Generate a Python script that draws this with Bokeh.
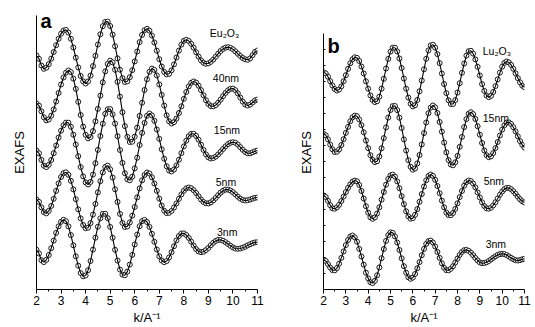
from bokeh.plotting import figure
from bokeh.layouts import row
from bokeh.models import Range1d, FixedTicker, Label
from bokeh.embed import file_html
from bokeh.resources import INLINE

# k grid (A^-1), sampled every 0.1 from 2 to 11
k = [round(2.0 + 0.1 * i, 1) for i in range(91)]

# ---------- panel a (Eu) : EXAFS, arbitrary units ----------
a_names = ["Eu\u2082O\u2083", "40nm", "15nm", "5nm", "3nm"]
a_offsets = [23.4, 18.9, 13.9, 8.9, 3.9]

a_eu2o3 = [0, -0.33, -1.0, -1.33, -1.21, -0.86, -0.32, 0.35, 1.03, 1.67,
           2.18, 2.49, 2.56, 2.29, 1.67, 0.80, -0.22, -1.19, -2.05, -2.59,
           -2.8, -2.59, -2.01, -1.06, -0.03, 1.10, 2.12, 2.93, 3.36, 3.39,
           2.95, 2.09, 0.93, -0.29, -1.42, -2.26, -2.65, -2.58, -2.17, -1.47,
           -0.59, 0.40, 1.34, 2.06, 2.53, 2.67, 2.48, 2.0, 1.30, 0.48,
           -0.37, -1.10, -1.64, -1.89, -1.83, -1.48, -0.89, -0.20, 0.49, 1.08,
           1.47, 1.57, 1.45, 1.17, 0.78, 0.32, -0.11, -0.49, -0.73, -0.83,
           -0.78, -0.63, -0.40, -0.12, 0.18, 0.45, 0.66, 0.80, 0.83, 0.76,
           0.62, 0.41, 0.17, -0.05, -0.25, -0.38, -0.43, -0.29, 0.04, 0.36,
           0.5]
a_40nm = [-0.3, -0.52, -1.08, -1.68, -1.99, -1.90, -1.52, -0.90, -0.10, 0.75,
          1.60, 2.30, 2.78, 3.0, 2.84, 2.19, 1.16, -0.13, -1.45, -2.61,
          -3.43, -3.79, -3.65, -3.06, -2.08, -0.84, 0.49, 1.82, 2.91, 3.66,
          3.99, 3.81, 3.07, 1.87, 0.39, -1.17, -2.56, -3.63, -4.15, -4.12,
          -3.62, -2.72, -1.54, -0.23, 1.05, 2.12, 2.87, 3.19, 3.06, 2.51,
          1.61, 0.56, -0.51, -1.48, -2.08, -2.3, -2.17, -1.81, -1.25, -0.58,
          0.17, 0.85, 1.41, 1.77, 1.9, 1.79, 1.48, 1.04, 0.53, 0.03,
          -0.36, -0.57, -0.58, -0.46, -0.22, 0.09, 0.44, 0.76, 1.02, 1.17,
          1.19, 1.03, 0.71, 0.29, -0.11, -0.40, -0.5, -0.41, -0.2, 0.01,
          0.1]
a_15nm = [0, -0.28, -0.94, -1.52, -1.66, -1.43, -0.95, -0.27, 0.50, 1.30,
          1.98, 2.52, 2.79, 2.78, 2.37, 1.58, 0.59, -0.57, -1.66, -2.59,
          -3.19, -3.4, -3.14, -2.41, -1.27, 0.06, 1.44, 2.68, 3.67, 4.12,
          4.14, 3.62, 2.69, 1.43, 0.05, -1.24, -2.28, -2.88, -2.98, -2.61,
          -1.79, -0.72, 0.55, 1.76, 2.76, 3.47, 3.7, 3.51, 2.97, 2.10,
          1.17, 0.12, -0.82, -1.58, -2.01, -2.09, -1.90, -1.49, -0.92, -0.26,
          0.41, 0.98, 1.43, 1.67, 1.67, 1.46, 1.08, 0.58, 0.06, -0.39,
          -0.69, -0.8, -0.75, -0.61, -0.39, -0.13, 0.16, 0.42, 0.64, 0.78,
          0.83, 0.77, 0.59, 0.33, 0.07, -0.15, -0.28, -0.28, -0.18, -0.07,
          0]
a_5nm = [0.1, -0.14, -0.68, -1.17, -1.29, -1.04, -0.54, 0.17, 0.96, 1.71,
         2.35, 2.73, 2.82, 2.57, 1.97, 1.11, 0.13, -0.89, -1.79, -2.45,
         -2.77, -2.72, -2.26, -1.41, -0.34, 0.82, 1.93, 2.81, 3.36, 3.49,
         3.12, 2.30, 1.12, -0.14, -1.34, -2.24, -2.65, -2.59, -2.19, -1.52,
         -0.65, 0.31, 1.21, 2.02, 2.55, 2.80, 2.70, 2.32, 1.70, 0.97,
         0.18, -0.50, -1.03, -1.26, -1.23, -1.04, -0.70, -0.29, 0.17, 0.61,
         0.97, 1.22, 1.3, 1.23, 1.03, 0.75, 0.42, 0.10, -0.15, -0.28,
         -0.29, -0.18, 0.01, 0.26, 0.54, 0.79, 0.98, 1.09, 1.09, 1.0,
         0.83, 0.61, 0.38, 0.18, 0.05, 0, 0.03, 0.1, 0.19, 0.27,
         0.3]
a_3nm = [0.07, -0.30, -0.97, -1.16, -0.93, -0.45, 0.23, 0.99, 1.76, 2.41,
         2.87, 3.07, 2.93, 2.41, 1.54, 0.52, -0.58, -1.52, -2.26, -2.58,
         -2.49, -1.97, -1.05, 0.09, 1.28, 2.38, 3.22, 3.67, 3.67, 3.23,
         2.36, 1.27, 0.07, -1.0, -1.91, -2.42, -2.47, -2.11, -1.41, -0.44,
         0.61, 1.59, 2.43, 2.94, 3.06, 2.85, 2.36, 1.67, 0.87, 0.10,
         -0.58, -1.0, -1.17, -1.05, -0.69, -0.17, 0.43, 1.01, 1.45, 1.70,
         1.71, 1.55, 1.26, 0.88, 0.49, 0.14, -0.09, -0.17, -0.12, 0.04,
         0.26, 0.53, 0.77, 0.96, 1.06, 1.06, 0.97, 0.83, 0.65, 0.47,
         0.31, 0.20, 0.17, 0.2, 0.28, 0.38, 0.51, 0.63, 0.74, 0.81,
         0.83]
a_series = [a_eu2o3, a_40nm, a_15nm, a_5nm, a_3nm]
a_label_k = [9.06, 9.18, 9.22, 9.3, 9.35]
a_label_y = [25.7, 21.2, 16.0, 10.8, 5.8]

# ---------- panel b (Lu) ----------
b_names = ["Lu\u2082O\u2083", "15nm", "5nm", "3nm"]
b_offsets = [21.4, 15.2, 9.2, 3.1]

b_lu2o3 = [0.33, 0.21, -0.12, -0.57, -1.0, -1.35, -1.5, -1.40, -1.08, -0.57,
           0.03, 0.66, 1.23, 1.63, 1.82, 1.76, 1.45, 0.90, 0.21, -0.58,
           -1.32, -1.99, -2.45, -2.66, -2.57, -2.12, -1.32, -0.33, 0.70, 1.66,
           2.39, 2.78, 2.78, 2.41, 1.70, 0.75, -0.30, -1.32, -2.21, -2.83,
           -3.09, -2.97, -2.45, -1.58, -0.50, 0.62, 1.67, 2.51, 3.0, 3.08,
           2.78, 2.14, 1.24, 0.20, -0.86, -1.76, -2.48, -2.85, -2.85, -2.46,
           -1.71, -0.77, 0.27, 1.20, 1.99, 2.43, 2.47, 2.19, 1.61, 0.87,
           0.0, -0.86, -1.54, -2.01, -2.17, -2.03, -1.65, -1.06, -0.39, 0.29,
           0.88, 1.26, 1.4, 1.31, 1.06, 0.67, 0.22, -0.26, -0.68, -1.02,
           -1.17]
b_15nm = [0.37, 0.22, -0.18, -0.71, -1.18, -1.45, -1.43, -1.19, -0.75, -0.17,
          0.46, 1.06, 1.63, 2.02, 2.19, 2.13, 1.80, 1.24, 0.52, -0.30,
          -1.07, -1.77, -2.24, -2.46, -2.37, -1.90, -1.08, -0.06, 1.01, 1.99,
          2.75, 3.14, 3.15, 2.74, 1.98, 0.95, -0.19, -1.30, -2.27, -2.93,
          -3.22, -3.10, -2.59, -1.75, -0.69, 0.44, 1.50, 2.43, 2.99, 3.2,
          3.01, 2.45, 1.55, 0.58, -0.50, -1.48, -2.26, -2.70, -2.78, -2.48,
          -1.84, -0.93, 0.06, 1.04, 1.84, 2.37, 2.53, 2.34, 1.85, 1.13,
          0.28, -0.55, -1.30, -1.77, -1.97, -1.88, -1.56, -1.06, -0.45, 0.19,
          0.78, 1.23, 1.49, 1.51, 1.35, 1.03, 0.61, 0.12, -0.36, -0.74,
          -1.01]
b_5nm = [0.2, 0.05, -0.33, -0.77, -1.08, -1.12, -0.99, -0.73, -0.35, 0.09,
         0.54, 0.96, 1.32, 1.58, 1.69, 1.62, 1.26, 0.65, -0.10, -0.87,
         -1.52, -1.98, -2.13, -1.99, -1.60, -0.98, -0.22, 0.55, 1.28, 1.86,
         2.21, 2.29, 2.09, 1.61, 0.93, 0.13, -0.67, -1.38, -1.89, -2.12,
         -2.06, -1.73, -1.16, -0.43, 0.35, 1.10, 1.72, 2.16, 2.3, 2.16,
         1.77, 1.15, 0.43, -0.31, -0.98, -1.51, -1.76, -1.77, -1.55, -1.14,
         -0.58, 0.04, 0.65, 1.18, 1.54, 1.70, 1.64, 1.40, 1.01, 0.51,
         0.0, -0.48, -0.86, -1.08, -1.12, -1.02, -0.79, -0.47, -0.10, 0.28,
         0.60, 0.84, 0.96, 0.95, 0.83, 0.62, 0.37, 0.08, -0.18, -0.38,
         -0.49]
b_3nm = [-0.13, -0.25, -0.56, -0.91, -1.16, -1.18, -0.96, -0.52, 0.06, 0.71,
         1.34, 1.85, 2.20, 2.30, 2.12, 1.68, 0.96, 0.20, -0.62, -1.42,
         -1.99, -2.37, -2.46, -2.23, -1.68, -0.89, 0.03, 0.95, 1.76, 2.35,
         2.61, 2.56, 2.21, 1.60, 0.85, 0.02, -0.77, -1.42, -1.88, -2.03,
         -1.91, -1.55, -0.98, -0.36, 0.33, 0.96, 1.46, 1.74, 1.79, 1.60,
         1.20, 0.66, 0.06, -0.48, -0.93, -1.17, -1.18, -1.03, -0.77, -0.40,
         -0.01, 0.36, 0.66, 0.83, 0.86, 0.77, 0.58, 0.33, 0.05, -0.20,
         -0.39, -0.47, -0.45, -0.38, -0.25, -0.10, 0.07, 0.22, 0.36, 0.44,
         0.47, 0.44, 0.34, 0.21, 0.06, -0.07, -0.17, -0.2, -0.16, -0.08,
         -0.03]
b_series = [b_lu2o3, b_15nm, b_5nm, b_3nm]
b_label_k = [9.13, 9.13, 9.17, 9.26]
b_label_y = [23.9, 17.2, 10.9, 4.6]

x_ticks = [2, 3, 4, 5, 6, 7, 8, 9, 10, 11]
x_minor = [2.5, 3.5, 4.5, 5.5, 6.5, 7.5, 8.5, 9.5, 10.5]
b_yminor = [1.6, 3.2, 4.8, 6.4, 8.0, 9.6, 11.2, 12.8, 14.4, 16.0, 17.6,
            19.2, 20.8, 22.4, 24.0]

FONT = "Liberation Sans"
YMAX = 27.4


def make_panel(width, series, offsets, names, lab_k, lab_y, letter,
               letter_k, letter_y, mb_left, mb_right, y_top, y_minor):
    p = figure(width=width, height=327, x_range=Range1d(2, 11),
               y_range=Range1d(0, YMAX), output_backend="svg",
               toolbar_location=None, title=None,
               min_border_left=mb_left, min_border_right=mb_right,
               min_border_top=15, min_border_bottom=38)
    p.outline_line_color = None
    p.grid.visible = False
    p.background_fill_color = "white"
    p.border_fill_color = "white"

    xa = p.xaxis[0]
    xa.ticker = FixedTicker(ticks=x_ticks, minor_ticks=x_minor)
    xa.axis_label = "k/A\u207b\u00b9"
    xa.axis_label_text_font = FONT
    xa.axis_label_text_font_style = "normal"
    xa.axis_label_text_font_size = "13px"
    xa.axis_label_text_color = "black"
    xa.axis_label_standoff = 2
    xa.major_label_text_font = FONT
    xa.major_label_text_font_size = "12px"
    xa.major_label_text_color = "black"
    xa.major_label_standoff = 2
    xa.major_tick_out = 4
    xa.major_tick_in = 0
    xa.minor_tick_out = 2
    xa.minor_tick_in = 0
    xa.axis_line_color = "black"
    xa.major_tick_line_color = "black"
    xa.minor_tick_line_color = "black"

    ya = p.yaxis[0]
    ya.ticker = FixedTicker(ticks=[], minor_ticks=y_minor)
    ya.bounds = (0, y_top)
    ya.axis_label = "EXAFS"
    ya.axis_label_text_font = FONT
    ya.axis_label_text_font_style = "normal"
    ya.axis_label_text_font_size = "13px"
    ya.axis_label_text_color = "black"
    ya.axis_label_standoff = 10
    ya.major_label_standoff = 0
    ya.major_tick_in = 0
    ya.major_tick_out = 0
    ya.minor_tick_in = 2
    ya.minor_tick_out = 0
    ya.axis_line_color = "black"
    ya.minor_tick_line_color = "black"

    for vals, off in zip(series, offsets):
        y = [v + off for v in vals]
        p.scatter(k, y, marker="circle", size=5, fill_color="white",
                  line_color="#1a1a1a", line_width=1.0)
        p.line(k, y, line_color="black", line_width=1.1)

    for name, lk, ly in zip(names, lab_k, lab_y):
        p.add_layout(Label(x=lk, y=ly, text=name, text_font=FONT,
                           text_font_size="10.5px", text_baseline="middle",
                           text_align="left", text_color="black"))

    p.add_layout(Label(x=letter_k, y=letter_y, text=letter, text_font=FONT,
                       text_font_size="20px", text_font_style="bold",
                       text_baseline="alphabetic", text_align="left",
                       text_color="black"))
    return p


pa = make_panel(270, a_series, a_offsets, a_names, a_label_k, a_label_y,
                "a", 2.16, 26.9, 36, 13, YMAX, [])
pb = make_panel(265, b_series, b_offsets, b_names, b_label_k, b_label_y,
                "b", 2.18, 24.4, 53, 11, 25.6, b_yminor)

layout = row(pa, pb)
open("out.html", "w").write(file_html(layout, INLINE))
